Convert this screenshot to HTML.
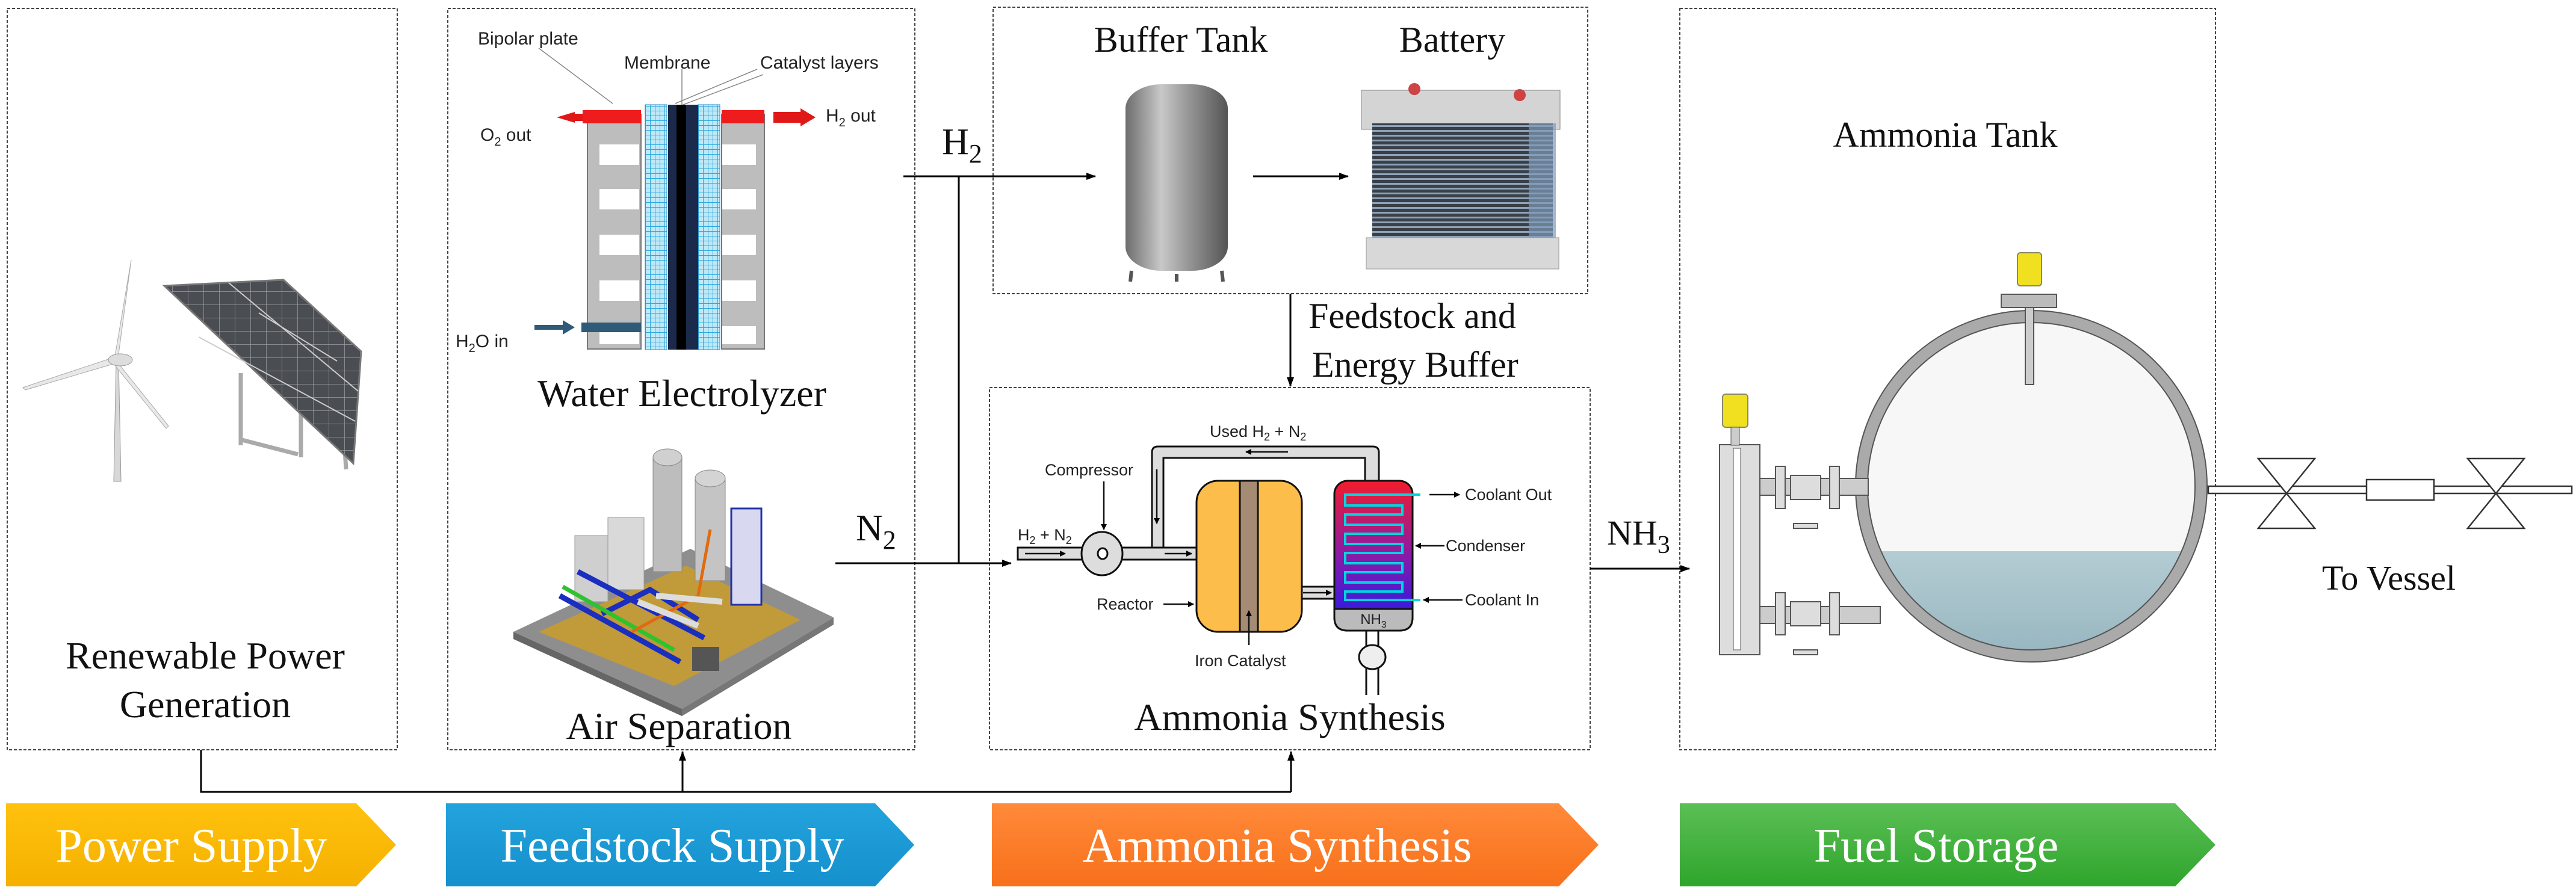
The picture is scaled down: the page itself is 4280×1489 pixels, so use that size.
<!DOCTYPE html>
<html><head><meta charset="utf-8"><style>
html,body{margin:0;padding:0;background:#fff}
svg{display:block}
.s{font-family:"Liberation Serif",serif;fill:#111}
.n{font-family:"Liberation Sans Narrow","Liberation Sans",sans-serif;fill:#222}
</style></head><body>
<svg width="4280" height="1489" viewBox="0 0 4280 1489" xmlns="http://www.w3.org/2000/svg">
<defs>
<marker id="ar" markerWidth="10" markerHeight="10" refX="9" refY="5" orient="auto" markerUnits="userSpaceOnUse" viewBox="0 0 10 10"><path d="M0,0 L10,5 L0,10 z" fill="#000"/></marker>
<marker id="as" markerWidth="16" markerHeight="16" refX="15" refY="8" orient="auto" markerUnits="userSpaceOnUse" viewBox="0 0 16 16"><path d="M0,2 L16,8 L0,14 z" fill="#000"/></marker>
<linearGradient id="gy" x1="0" y1="0" x2="0" y2="1"><stop offset="0" stop-color="#FFC20E"/><stop offset="1" stop-color="#F5B000"/></linearGradient>
<linearGradient id="gb" x1="0" y1="0" x2="0" y2="1"><stop offset="0" stop-color="#23A3DD"/><stop offset="1" stop-color="#1590CC"/></linearGradient>
<linearGradient id="go" x1="0" y1="0" x2="0" y2="1"><stop offset="0" stop-color="#FF8A3A"/><stop offset="1" stop-color="#F8701A"/></linearGradient>
<linearGradient id="gg" x1="0" y1="0" x2="0" y2="1"><stop offset="0" stop-color="#5BBF55"/><stop offset="1" stop-color="#2FA52C"/></linearGradient>
<linearGradient id="cond" x1="0" y1="0" x2="0" y2="1"><stop offset="0" stop-color="#F21C2C"/><stop offset="0.5" stop-color="#8A1AA8"/><stop offset="1" stop-color="#1A1AF0"/></linearGradient>
<linearGradient id="tankg" x1="0" y1="0" x2="1" y2="0"><stop offset="0" stop-color="#6d6d6d"/><stop offset="0.35" stop-color="#c8c8c8"/><stop offset="0.6" stop-color="#999"/><stop offset="1" stop-color="#555"/></linearGradient>
<linearGradient id="liq" x1="0" y1="0" x2="0" y2="1"><stop offset="0" stop-color="#b4ccd3"/><stop offset="1" stop-color="#93b3bd"/></linearGradient>
<pattern id="mesh" width="8" height="8" patternUnits="userSpaceOnUse"><rect width="8" height="8" fill="#bfe8f7"/><path d="M0,0H8M0,0V8" stroke="#2aa7dc" stroke-width="2"/></pattern>
<pattern id="sol" width="26" height="22" patternUnits="userSpaceOnUse"><rect width="26" height="22" fill="#4a4d52"/><path d="M0,0H26M0,0V22" stroke="#9a9ea4" stroke-width="1.5"/></pattern>
<pattern id="fins" width="10" height="8" patternUnits="userSpaceOnUse"><rect width="10" height="8" fill="#3a4048"/><rect y="0" width="10" height="3" fill="#8fa3b8"/></pattern>
</defs>

<g fill="none" stroke="#444" stroke-width="2" stroke-dasharray="5,3">
<rect x="12" y="14" width="648" height="1232"/>
<rect x="744" y="14" width="776" height="1232"/>
<rect x="1650" y="12" width="988" height="476"/>
<rect x="1644" y="644" width="998" height="602"/>
<rect x="2791" y="14" width="890" height="1232"/>
</g>

<g>
<path d="M193,600 L189,800 L201,800 L197,600z" fill="#d8d8d8" stroke="#999"/>
<path d="M190,598 L218,432 L196,596z" fill="#e8e8e8" stroke="#aaa"/>
<path d="M189,594 L38,644 L42,648 L191,604z" fill="#e8e8e8" stroke="#aaa"/>
<path d="M195,602 L280,708 L276,712 L190,606z" fill="#e8e8e8" stroke="#aaa"/>
<ellipse cx="200" cy="598" rx="20" ry="10" fill="#ddd" stroke="#999"/>
</g>
<g>
<path d="M400,620 L400,740 M398,730 L495,755 M500,650 L500,760 M570,700 L575,780" stroke="#aaa" stroke-width="7" fill="none"/>
<path d="M273,475 L471,465 L600,584 L587,770 Z" fill="url(#sol)" stroke="#777" stroke-width="3"/>
<path d="M380,470 L595,650 M430,520 L560,600 M330,560 L590,700" stroke="#ccc" stroke-width="2"/>
</g>
<text class="s" x="341" y="1111" font-size="64" text-anchor="middle">Renewable Power</text>
<text class="s" x="341" y="1192" font-size="64" text-anchor="middle">Generation</text>

<g>
<rect x="976" y="190" width="89" height="390" fill="#bdbdbd" stroke="#777" stroke-width="2"/>
<rect x="1199" y="190" width="71" height="390" fill="#bdbdbd" stroke="#777" stroke-width="2"/>
<g fill="#fff">
<rect x="996" y="240" width="66" height="34"/><rect x="996" y="314" width="66" height="34"/><rect x="996" y="390" width="66" height="34"/><rect x="996" y="466" width="66" height="34"/><rect x="996" y="542" width="66" height="30"/>
<rect x="1200" y="240" width="56" height="34"/><rect x="1200" y="314" width="56" height="34"/><rect x="1200" y="390" width="56" height="34"/><rect x="1200" y="466" width="56" height="34"/><rect x="1200" y="542" width="56" height="30"/>
</g>
<rect x="1072" y="174" width="36" height="407" fill="url(#mesh)" stroke="#2a8ac0"/>
<rect x="1160" y="174" width="36" height="407" fill="url(#mesh)" stroke="#2a8ac0"/>
<rect x="1110" y="174" width="50" height="407" fill="#1b2a4a"/>
<rect x="1124" y="174" width="16" height="407" fill="#000"/>
<rect x="968" y="183" width="97" height="22" fill="#ee1c1c"/>
<rect x="1199" y="183" width="71" height="22" fill="#ee1c1c"/>
<path d="M955,186 L925,195 L955,204 Z M955,189 H968 V201 H955Z" fill="#e01818"/>
<path d="M1285,186 H1330 V180 L1355,195 L1330,210 V204 H1285Z" fill="#e01818"/>
<rect x="966" y="536" width="99" height="16" fill="#2f5a78"/>
<path d="M888,540 H935 V532 L955,544 L935,556 V548 H888Z" fill="#2f5a78"/>
<path d="M895,80 L1018,172 M1133,115 V174 M1258,115 L1122,172 M1268,124 L1135,174" stroke="#888" stroke-width="1.5" fill="none"/>
</g>
<g class="n" font-size="30">
<text x="794" y="74">Bipolar plate</text>
<text x="1037" y="114">Membrane</text>
<text x="1263" y="114">Catalyst layers</text>
<text x="798" y="234">O<tspan font-size="20" dy="8">2</tspan><tspan dy="-8"> out</tspan></text>
<text x="1372" y="202">H<tspan font-size="20" dy="8">2</tspan><tspan dy="-8"> out</tspan></text>
<text x="757" y="577">H<tspan font-size="20" dy="8">2</tspan><tspan dy="-8">O in</tspan></text>
</g>
<text class="s" x="1133" y="675" font-size="64" text-anchor="middle">Water Electrolyzer</text>

<g>
<path d="M853,1050 L1147,912 L1385,1026 L1133,1178 Z" fill="#8e8e8e"/>
<path d="M853,1050 L1133,1178 L1133,1190 L853,1062Z" fill="#666"/>
<path d="M1133,1178 L1385,1026 L1385,1038 L1133,1190Z" fill="#777"/>
<path d="M895,1050 L1140,940 L1330,1030 L1120,1140Z" fill="#c19a3a"/>
<rect x="955" y="890" width="55" height="110" fill="#cfcfcf" stroke="#999"/>
<rect x="1010" y="860" width="60" height="120" fill="#d9d9d9" stroke="#999"/>
<rect x="1085" y="760" width="48" height="190" fill="#bdbdbd" stroke="#888"/>
<ellipse cx="1109" cy="760" rx="24" ry="14" fill="#d0d0d0" stroke="#888"/>
<rect x="1155" y="795" width="50" height="170" fill="#c4c4c4" stroke="#888"/>
<ellipse cx="1180" cy="795" rx="25" ry="14" fill="#d4d4d4" stroke="#888"/>
<rect x="1215" y="845" width="50" height="160" fill="#d8d8f0" stroke="#2233aa" stroke-width="3"/>
<path d="M930,990 L1130,1100 M960,950 L1170,1060 M1000,1020 L1080,980 L1160,1030" stroke="#1a2ec0" stroke-width="9" fill="none"/>
<path d="M935,975 L1120,1080" stroke="#2ec22e" stroke-width="7" fill="none"/>
<path d="M1050,1050 L1160,990 L1180,880" stroke="#e06a10" stroke-width="5" fill="none"/>
<path d="M1060,1000 L1160,1040 M1090,990 L1200,1000" stroke="#ddd" stroke-width="10" fill="none"/>
<rect x="1150" y="1075" width="45" height="40" fill="#555"/>
</g>
<text class="s" x="1128" y="1228" font-size="64" text-anchor="middle">Air Separation</text>

<g>
<rect x="1870" y="140" width="170" height="310" rx="60" ry="40" fill="url(#tankg)"/>
<path d="M1880,450 L1878,468 M2030,450 L2032,468 M1955,455 L1955,468" stroke="#555" stroke-width="6"/>
</g>
<text class="s" x="1962" y="86" font-size="60" text-anchor="middle">Buffer Tank</text>
<g>
<rect x="2262" y="150" width="330" height="65" fill="#d4d4d4" stroke="#888"/>
<rect x="2280" y="205" width="300" height="200" fill="url(#fins)"/>
<rect x="2540" y="205" width="45" height="200" fill="#7f9ab8" opacity="0.7"/>
<rect x="2270" y="395" width="320" height="52" fill="#d8d8d8" stroke="#999"/>
<circle cx="2350" cy="148" r="10" fill="#c44"/><circle cx="2525" cy="158" r="10" fill="#c44"/>
</g>
<text class="s" x="2413" y="86" font-size="60" text-anchor="middle">Battery</text>

<g stroke="#000" stroke-width="3" fill="none">
<path d="M1501,293 H1820" marker-end="url(#as)"/>
<path d="M1593,293 V936"/>
<path d="M1388,936 H1680" marker-end="url(#as)"/>
<path d="M2082,293 H2240" marker-end="url(#as)"/>
<path d="M2144,488 V642" marker-end="url(#as)"/>
<path d="M2642,945 H2807" marker-end="url(#as)"/>
<path d="M334,1246 V1316 H2145"/>
<path d="M1134,1316 V1249" marker-end="url(#as)"/>
<path d="M2145,1316 V1249" marker-end="url(#as)"/>
</g>
<text class="s" x="1565" y="256" font-size="62">H<tspan font-size="44" dy="14">2</tspan></text>
<text class="s" x="1422" y="898" font-size="62">N<tspan font-size="44" dy="14">2</tspan></text>
<text class="s" x="2670" y="905" font-size="58">NH<tspan font-size="42" dy="14">3</tspan></text>
<text class="s" x="2174" y="545" font-size="60">Feedstock and</text>
<text class="s" x="2180" y="626" font-size="60">Energy Buffer</text>

<g stroke="#111" stroke-width="3">
<path d="M1914,910 V752 Q1914,742 1924,742 H2281 Q2291,742 2291,752 V800 H2268 V761 H1933 V910Z" fill="#ddd"/>
<path d="M1691,910 H1990 V930 H1691Z" fill="#ddd"/>
<ellipse cx="1831" cy="920" rx="34" ry="36" fill="#ddd"/>
<ellipse cx="1832" cy="920" rx="8" ry="9" fill="#fff"/>
<path d="M2163,975 H2220 V995 H2163Z" fill="#ddd"/>
<rect x="1988" y="799" width="175" height="251" rx="36" fill="#FDBD4A"/>
<rect x="2060" y="799" width="30" height="251" fill="#a58a74"/>
<rect x="2217" y="799" width="130" height="249" rx="22" fill="url(#cond)"/>
<path d="M2217,1012 H2347 V1026 Q2347,1048 2325,1048 H2239 Q2217,1048 2217,1026Z" fill="#bbb"/>
<path d="M2270,1048 V1075 M2290,1048 V1075 M2270,1110 V1155 M2290,1110 V1155" fill="none"/>
<ellipse cx="2280" cy="1092" rx="22" ry="20" fill="#eee"/>
</g>
<path d="M2360,822 H2235 V840 H2330 V855 H2235 V872 H2330 V887 H2235 V904 H2330 V919 H2235 V936 H2330 V951 H2235 V968 H2330 V983 H2235 V997 H2360" fill="none" stroke="#00d4e0" stroke-width="4"/>
<text x="2282" y="1037" class="n" font-size="24" text-anchor="middle">NH<tspan font-size="16" dy="6">3</tspan></text>
<g stroke="#111" stroke-width="2.5" fill="none">
<path d="M1703,920 H1770" marker-end="url(#ar)"/>
<path d="M1935,920 H1980" marker-end="url(#ar)"/>
<path d="M2165,985 H2212" marker-end="url(#ar)"/>
<path d="M2140,751 H2070" marker-end="url(#ar)"/>
<path d="M1922,780 V870" marker-end="url(#ar)"/>
<path d="M1834,800 V880" marker-end="url(#ar)"/>
<path d="M1933,1004 H1983" marker-end="url(#ar)"/>
<path d="M2075,1072 V1015" marker-end="url(#ar)"/>
<path d="M2375,822 H2425" marker-end="url(#ar)"/>
<path d="M2400,907 H2352" marker-end="url(#ar)"/>
<path d="M2430,997 H2365" marker-end="url(#ar)"/>
</g>
<g class="n" font-size="27">
<text x="2010" y="726">Used H<tspan font-size="18" dy="6">2</tspan><tspan dy="-6"> + N</tspan><tspan font-size="18" dy="6">2</tspan></text>
<text x="1736" y="790">Compressor</text>
<text x="1691" y="898">H<tspan font-size="18" dy="6">2</tspan><tspan dy="-6"> + N</tspan><tspan font-size="18" dy="6">2</tspan></text>
<text x="1822" y="1013">Reactor</text>
<text x="1985" y="1107">Iron Catalyst</text>
<text x="2434" y="831">Coolant Out</text>
<text x="2402" y="916">Condenser</text>
<text x="2434" y="1006">Coolant In</text>
</g>
<text class="s" x="2143" y="1213" font-size="64" text-anchor="middle">Ammonia Synthesis</text>

<text class="s" x="3232" y="244" font-size="60" text-anchor="middle">Ammonia Tank</text>
<g>
<clipPath id="tc"><ellipse cx="3375" cy="808" rx="272" ry="272"/></clipPath>
<ellipse cx="3375" cy="808" rx="272" ry="272" fill="#f7f7f7"/>
<rect x="3090" y="916" width="580" height="200" fill="url(#liq)" clip-path="url(#tc)"/>
<ellipse cx="3375" cy="808" rx="282" ry="282" fill="none" stroke="#aaa" stroke-width="20"/>
<ellipse cx="3375" cy="808" rx="292" ry="292" fill="none" stroke="#555" stroke-width="2"/>
<ellipse cx="3375" cy="808" rx="272" ry="272" fill="none" stroke="#555" stroke-width="2"/>
<rect x="3325" y="489" width="92" height="22" fill="#bbb" stroke="#555" stroke-width="2"/>
<rect x="3365" y="511" width="14" height="128" fill="#ccc" stroke="#555" stroke-width="2"/>
<rect x="3352" y="420" width="40" height="55" rx="5" fill="#f0e020" stroke="#886" stroke-width="2"/>
<rect x="2857" y="739" width="67" height="349" fill="#ddd" stroke="#555" stroke-width="2"/>
<rect x="2880" y="745" width="12" height="335" fill="#fff" stroke="#555"/>
<rect x="2862" y="655" width="42" height="55" rx="5" fill="#f0e020" stroke="#886" stroke-width="2"/>
<rect x="2876" y="710" width="14" height="30" fill="#ccc" stroke="#555"/>
<rect x="2924" y="795" width="180" height="28" fill="#ccc" stroke="#555" stroke-width="2"/>
<rect x="2924" y="1008" width="200" height="28" fill="#ccc" stroke="#555" stroke-width="2"/>
<g fill="#ddd" stroke="#555" stroke-width="2">
<rect x="2950" y="775" width="16" height="70"/><rect x="3040" y="775" width="16" height="70"/><rect x="2975" y="790" width="50" height="40"/>
<rect x="2950" y="985" width="16" height="70"/><rect x="3040" y="985" width="16" height="70"/><rect x="2975" y="1000" width="50" height="40"/>
<rect x="2980" y="870" width="40" height="8"/><rect x="2980" y="1080" width="40" height="8"/>
</g>
</g>
<g stroke="#333" stroke-width="2.5" fill="#fff">
<rect x="3669" y="808" width="604" height="12"/>
<path d="M3752,762 H3846 L3752,878 H3846 Z"/>
<path d="M4100,762 H4194 L4100,878 H4194 Z"/>
<rect x="3932" y="797" width="112" height="34"/>
</g>
<text class="s" x="3969" y="980" font-size="58" text-anchor="middle">To Vessel</text>

<path d="M10,1335 H592 L658,1404 L592,1473 H10Z" fill="url(#gy)"/>
<path d="M741,1335 H1454 L1519,1404 L1454,1473 H741Z" fill="url(#gb)"/>
<path d="M1648,1335 H2590 L2656,1404 L2590,1473 H1648Z" fill="url(#go)"/>
<path d="M2791,1335 H3614 L3681,1404 L3614,1473 H2791Z" fill="url(#gg)"/>
<g class="s" font-size="80" style="fill:#fff" text-anchor="middle">
<text x="318" y="1432">Power Supply</text>
<text x="1117" y="1432">Feedstock Supply</text>
<text x="2122" y="1432">Ammonia Synthesis</text>
<text x="3217" y="1432">Fuel Storage</text>
</g>
</svg>
</body></html>
